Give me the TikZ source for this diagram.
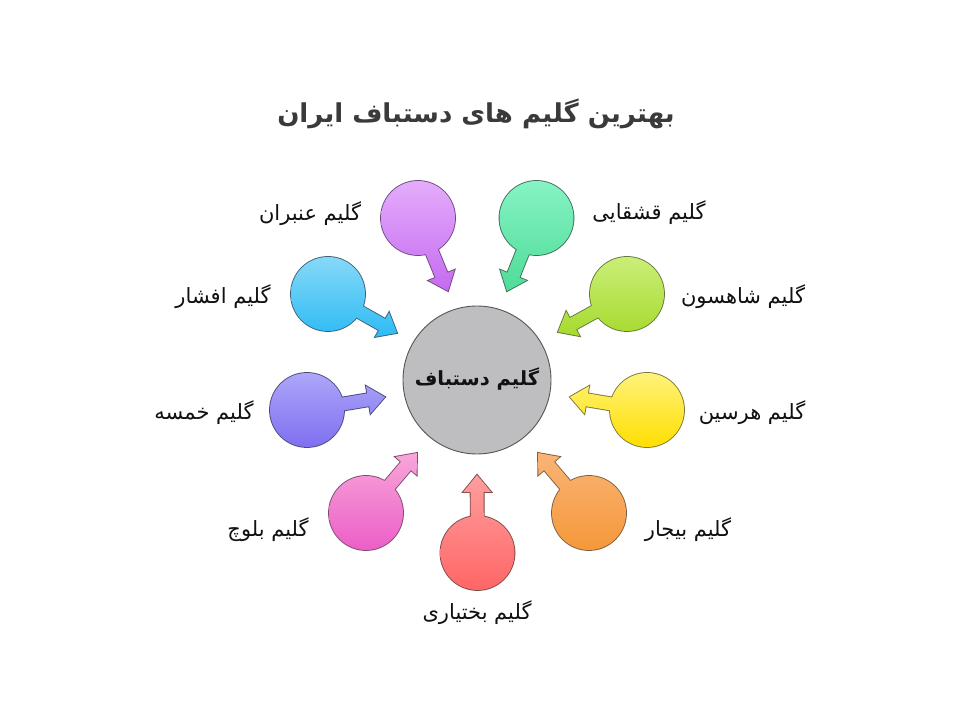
\documentclass[tikz,border=0pt]{standalone}
\usepackage{fontspec}
\usetikzlibrary{calc}
\TeXXeTstate=1
\newfontfamily\arabicfont[Script=Arabic]{DejaVu Sans}
\newcommand\fatext[1]{\arabicfont\beginR #1\endR}
\definecolor{anT}{HTML}{E4ACFB}\definecolor{anB}{HTML}{C56AF0}\definecolor{anL}{HTML}{6E4A7E}
\definecolor{qaT}{HTML}{86F3C4}\definecolor{qaB}{HTML}{4EDC98}\definecolor{qaL}{HTML}{3F6E5A}
\definecolor{afT}{HTML}{86D9F8}\definecolor{afB}{HTML}{2DBBF4}\definecolor{afL}{HTML}{3E6078}
\definecolor{shT}{HTML}{CBEE78}\definecolor{shB}{HTML}{A6DA2E}\definecolor{shL}{HTML}{637A36}
\definecolor{khT}{HTML}{ADA6F9}\definecolor{khB}{HTML}{7F6FF1}\definecolor{khL}{HTML}{4A4A7A}
\definecolor{haT}{HTML}{FFF27A}\definecolor{haB}{HTML}{FFDF00}\definecolor{haL}{HTML}{7E7636}
\definecolor{baT}{HTML}{F8A6DA}\definecolor{baB}{HTML}{EC5EC6}\definecolor{baL}{HTML}{7E4A6C}
\definecolor{btT}{HTML}{FF9E9E}\definecolor{btB}{HTML}{FF6666}\definecolor{btL}{HTML}{7E4A4A}
\definecolor{bjT}{HTML}{F9B476}\definecolor{bjB}{HTML}{F5983A}\definecolor{bjL}{HTML}{7E5E40}
\definecolor{hubF}{HTML}{BEBDBF}\definecolor{hubL}{HTML}{555555}
\definecolor{txt}{HTML}{111111}\definecolor{ttl}{HTML}{3A3A3A}
\tikzset{
  lbl/.style={font=\fontsize{21}{25}\selectfont, text=txt, inner sep=0pt},
  ttlstyle/.style={font=\fontsize{26}{32}\selectfont\bfseries, text=ttl, inner sep=0pt},
  hubtext/.style={font=\fontsize{19.5}{24}\selectfont\bfseries, text=txt, inner sep=0pt},
}
% #1 centre coordinate, #2 tip coordinate, #3 colour prefix
\newcommand\petal[3]{%
  \coordinate (#1-b) at ($(#2)!17pt!(#1)$);
  \draw[line width=1.8pt, #3L]
    (#1) circle[radius=37]
    ($(#1)!6.5pt!-90:(#2)$) -- ($(#1-b)!6.5pt!-90:(#2)$) -- ($(#1-b)!14pt!-90:(#2)$)
    -- (#2) -- ($(#1-b)!14pt!90:(#2)$) -- ($(#1-b)!6.5pt!90:(#2)$) -- ($(#1)!6.5pt!90:(#2)$) -- cycle;
  \shade[top color=#3T, bottom color=#3B]
    (#1) circle[radius=37]
    ($(#1)!6.5pt!-90:(#2)$) -- ($(#1-b)!6.5pt!-90:(#2)$) -- ($(#1-b)!14pt!-90:(#2)$)
    -- (#2) -- ($(#1-b)!14pt!90:(#2)$) -- ($(#1-b)!6.5pt!90:(#2)$) -- ($(#1)!6.5pt!90:(#2)$) -- cycle;
}
\begin{document}
\begin{tikzpicture}[x=1pt,y=1pt]
\useasboundingbox (0,0) rectangle (960,720);
\fill[white] (0,0) rectangle (960,720);
% hub
\coordinate (hub) at (477,340);
% circle centres and arrow tips
\coordinate (an) at (418,502);   \coordinate (an-t) at (448,429);
\coordinate (qa) at (536.5,502); \coordinate (qa-t) at (507,429);
\coordinate (af) at (328,426);   \coordinate (af-t) at (397,387);
\coordinate (sh) at (627,426);   \coordinate (sh-t) at (558,388);
\coordinate (kh) at (307,310);   \coordinate (kh-t) at (385,323);
\coordinate (ha) at (647,310);   \coordinate (ha-t) at (570,323);
\coordinate (ba) at (366,207);   \coordinate (ba-t) at (417,267);
\coordinate (bt) at (477.5,167); \coordinate (bt-t) at (477,245);
\coordinate (bj) at (589,207);   \coordinate (bj-t) at (538,267);
\petal{an}{an-t}{an}
\petal{qa}{qa-t}{qa}
\petal{af}{af-t}{af}
\petal{sh}{sh-t}{sh}
\petal{kh}{kh-t}{kh}
\petal{ha}{ha-t}{ha}
\petal{ba}{ba-t}{ba}
\petal{bt}{bt-t}{bt}
\petal{bj}{bj-t}{bj}
\draw[line width=0.9pt, hubL, fill=hubF] (hub) circle[radius=74];
\node[hubtext] (hubl) at (477,341) {\fatext{گلیم دستباف}};
% title
\node[ttlstyle] (title) at (476,606) {\fatext{بهترین گلیم های دستباف ایران}};
% labels
\node[lbl] (l-an) at (310,506) {\fatext{گلیم عنبران}};
\node[lbl] (l-qa) at (649,507) {\fatext{گلیم قشقایی}};
\node[lbl] (l-af) at (223,423) {\fatext{گلیم افشار}};
\node[lbl] (l-sh) at (743,423) {\fatext{گلیم شاهسون}};
\node[lbl] (l-kh) at (204,307) {\fatext{گلیم خمسه}};
\node[lbl] (l-ha) at (752,307) {\fatext{گلیم هرسین}};
\node[lbl] (l-ba) at (268,190) {\fatext{گلیم بلوچ}};
\node[lbl] (l-bj) at (688,190) {\fatext{گلیم بیجار}};
\node[lbl] (l-bt) at (477,107) {\fatext{گلیم بختیاری}};
\end{tikzpicture}
\end{document}
